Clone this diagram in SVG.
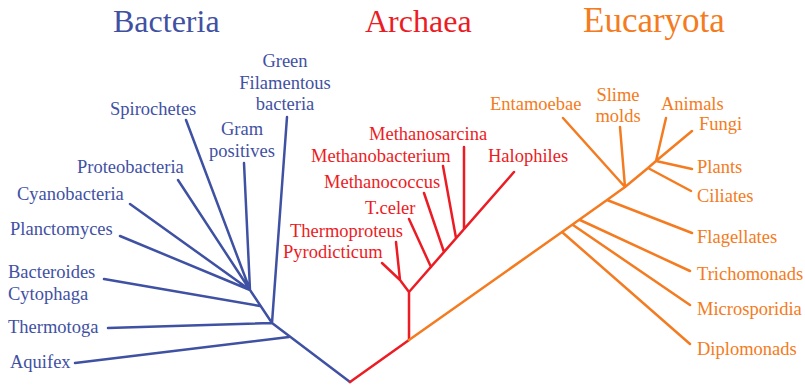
<svg xmlns="http://www.w3.org/2000/svg" width="805" height="386" viewBox="0 0 805 386">
<style>
text{font-family:"Liberation Serif","Times New Roman",serif;font-size:18.5px}
.t{font-size:32px}
.b{fill:#3f51a3}
.r{fill:#ec1c24}
.o{fill:#f47b20}
.lb{stroke:#3f51a3}
.lr{stroke:#ec1c24}
.lo{stroke:#f47b20}
#connectors path{fill:none;stroke-width:2.5;stroke-linecap:round;stroke-linejoin:round}
</style>
<rect width="805" height="386" fill="#fff"/>
<g id="connectors">
<path class="lb" d="M350,382 L272,323 M289,337 L75,363 M272,323 L108,328 M272,323 L287,117 M272,323 L250,290 M260,306 L104,279 M250,290 L120,236 M250,290 L130,204 M250,290 L178,180 M250,290 L186,120 M250,290 L244,163"/>
<path class="lr" d="M350,382 L409,340 L409,292 L400,280 L382,263 M400,280 L396,242 M409,292 L514,172 M431,267 L409,219 M444,252 L424,193 M456,238 L443,166 M464,229 L464,147"/>
<path class="lo" d="M409,340 L562,232 L607,200 L625,187 L648,168 L656,161 L666,118 M562,232 L690,344 M573,225 L690,305 M580,220 L690,271 M607,200 L692,233 M625,187 L563,118 M625,187 L620,127 M648,168 L691,191 M656,161 L692,131 M656,161 L692,169"/>
</g>
<g id="titles">
<text class="t b" x="113" y="32">Bacteria</text>
<text class="t r" x="365" y="32">Archaea</text>
<text class="t o" x="583" y="32" style="font-size:35px">Eucaryota</text>
</g>
<g id="bacteria" class="b">
<text id="green" text-anchor="middle" x="285" y="67"><tspan x="285">Green</tspan><tspan x="285" dy="21.5">Filamentous</tspan><tspan x="285" dy="21.5">bacteria</tspan></text>
<text id="spirochetes" x="110" y="115">Spirochetes</text>
<text id="gram" text-anchor="middle" x="242" y="135"><tspan x="242">Gram</tspan><tspan x="242" dy="22">positives</tspan></text>
<text id="proteobacteria" x="77" y="173">Proteobacteria</text>
<text id="cyanobacteria" x="17" y="200">Cyanobacteria</text>
<text id="planctomyces" x="10" y="235">Planctomyces</text>
<text id="bacteroides" x="8" y="278"><tspan x="8">Bacteroides</tspan><tspan x="8" dy="21.5">Cytophaga</tspan></text>
<text id="thermotoga" x="8" y="333">Thermotoga</text>
<text id="aquifex" x="10" y="368">Aquifex</text>
</g>
<g id="archaea" class="r">
<text id="methanosarcina" x="369" y="140">Methanosarcina</text>
<text id="methanobacterium" x="311" y="162">Methanobacterium</text>
<text id="halophiles" x="488" y="162">Halophiles</text>
<text id="methanococcus" x="324" y="188">Methanococcus</text>
<text id="tceler" x="365" y="214">T.celer</text>
<text id="thermoproteus" x="290" y="237">Thermoproteus</text>
<text id="pyrodicticum" x="283" y="258">Pyrodicticum</text>
</g>
<g id="eucaryota" class="o">
<text id="entamoebae" x="490" y="110">Entamoebae</text>
<text id="slime" text-anchor="middle" x="618" y="101"><tspan x="618">Slime</tspan><tspan x="618" dy="21">molds</tspan></text>
<text id="animals" x="661" y="110">Animals</text>
<text id="fungi" x="699" y="130">Fungi</text>
<text id="plants" x="697" y="173">Plants</text>
<text id="ciliates" x="697" y="202">Ciliates</text>
<text id="flagellates" x="697" y="243">Flagellates</text>
<text id="trichomonads" x="697" y="280">Trichomonads</text>
<text id="microsporidia" x="697" y="315">Microsporidia</text>
<text id="diplomonads" x="697" y="355">Diplomonads</text>
</g>
</svg>
